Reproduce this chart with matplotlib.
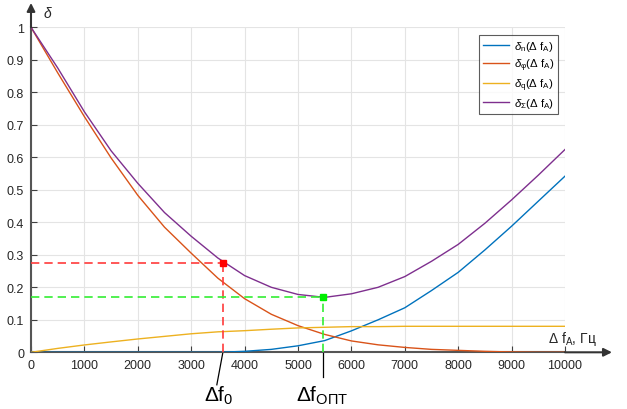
import matplotlib
matplotlib.use("Agg")
import matplotlib.pyplot as plt
import numpy as np

plt.rcParams['font.family'] = ['Liberation Sans', 'DejaVu Sans']
plt.rcParams['mathtext.fontset'] = 'custom'
plt.rcParams['mathtext.rm'] = 'Liberation Sans'
plt.rcParams['mathtext.it'] = 'Liberation Sans:italic'
plt.rcParams['mathtext.default'] = 'regular'

# ---- data ----
freq = [0, 500, 1000, 1500, 2000, 2500, 3000, 3500, 4000, 4500, 5000,
        5500, 6000, 6500, 7000, 7500, 8000, 8500, 9000, 9500, 10000]
delta_n = [0, 0, 0, 0, 0, 0, 0, 0, 0.003, 0.009, 0.02,
           0.036, 0.066, 0.1, 0.137, 0.19, 0.246, 0.315, 0.388, 0.465, 0.542]
delta_phi = [1.0, 0.86, 0.725, 0.598, 0.483, 0.385, 0.305, 0.228, 0.165, 0.117, 0.082,
             0.055, 0.035, 0.023, 0.015, 0.009, 0.006, 0.003, 0.001, 0.0, 0.0]
delta_q = [0, 0.012, 0.0226, 0.032, 0.041, 0.049, 0.057, 0.063, 0.0665, 0.071, 0.075,
           0.077, 0.079, 0.079, 0.08, 0.08, 0.08, 0.08, 0.08, 0.08, 0.08]
delta_sum = [1.0, 0.875, 0.74, 0.62, 0.52, 0.43, 0.357, 0.29, 0.236, 0.2, 0.178,
             0.169, 0.18, 0.2, 0.233, 0.28, 0.332, 0.397, 0.469, 0.545, 0.624]

f0 = 3590
f0_val = 0.274
fopt = 5470
fopt_val = 0.169

labels = [r'$\mathit{\delta}_n(\Delta\ f_A)$', r'$\mathit{\delta}_\varphi(\Delta\ f_A)$',
          r'$\mathit{\delta}_q(\Delta\ f_A)$', r'$\mathit{\delta}_\Sigma(\Delta\ f_A)$']
colors = ['#0072BD', '#D95319', '#EDB120', '#7E2F8E']
xticks = list(range(0, 10001, 1000))
yticks = [0, 0.1, 0.2, 0.3, 0.4, 0.5, 0.6, 0.7, 0.8, 0.9, 1]

W, H = 627, 410
fig = plt.figure(figsize=(W / 100, H / 100), dpi=100)
x0, x1 = 31, 565
y0, y1 = 353.3, 28.3
ax = fig.add_axes([x0 / W, 1 - y0 / H, (x1 - x0) / W, (y0 - y1) / H])

for ser, c, lab in zip([delta_n, delta_phi, delta_q, delta_sum], colors, labels):
    ax.plot(freq, ser, color=c, lw=1.0, label=lab, zorder=3)

ax.set_xlim(0, 10000)
ax.set_ylim(0, 1)
ax.set_xticks(xticks)
ax.set_yticks(yticks)
ax.set_xticklabels([str(t) for t in xticks])
ax.set_yticklabels(['0', '0.1', '0.2', '0.3', '0.4', '0.5', '0.6', '0.7', '0.8', '0.9', '1'])
ax.tick_params(direction='in', length=4, width=0.8, color='#404040',
               labelcolor='#262626', labelsize=9, pad=5)
ax.grid(True, color='#e4e4e4', lw=0.8, zorder=0)
ax.set_axisbelow(True)
for s in ['top', 'right']:
    ax.spines[s].set_visible(False)
for s in ['left', 'bottom']:
    ax.spines[s].set_color('#555555')
    ax.spines[s].set_linewidth(1.5)

# dashed guide lines and points
ax.plot([0, f0], [f0_val, f0_val], color='#ff3b3b', lw=1.2, dashes=(5, 3), zorder=4)
ax.plot([f0, f0], [0, f0_val], color='#ff3b3b', lw=1.2, dashes=(5, 3), zorder=4)
ax.plot([f0], [f0_val], 's', color='#ff0000', ms=4, zorder=5)
ax.plot([0, fopt], [fopt_val, fopt_val], color='#33ee33', lw=1.2, dashes=(5, 3), zorder=4)
ax.plot([fopt, fopt], [0, fopt_val], color='#33ee33', lw=1.2, dashes=(5, 3), zorder=4)
ax.plot([fopt], [fopt_val], 's', color='#00ee00', ms=4, zorder=5)

# leader lines and labels below axis
ax.plot([f0, f0 - 110], [-0.003, -0.1], color='k', lw=0.9, clip_on=False)
ax.plot([fopt, fopt], [-0.003, -0.075], color='k', lw=0.9, clip_on=False)
ax.text(3520, -0.13, r'$\Delta f_0$', fontsize=15, ha='center', va='center', color='k')
ax.text(5460, -0.13, r'$\Delta f_{ОПТ}$', fontsize=15, ha='center', va='center', color='k')

# axis arrows
ax.annotate('', xy=(10880, 0), xytext=(10000, 0), xycoords='data',
            arrowprops=dict(arrowstyle='-|>', color='#333333', lw=1.5,
                            mutation_scale=12, shrinkA=0, shrinkB=0),
            annotation_clip=False)
ax.annotate('', xy=(0, 1.075), xytext=(0, 1.0), xycoords='data',
            arrowprops=dict(arrowstyle='-|>', color='#333333', lw=1.5,
                            mutation_scale=12, shrinkA=0, shrinkB=0),
            annotation_clip=False)
ax.text(9680, 0.045, r'$\Delta\ f_A$, Гц', fontsize=10, ha='left', va='center',
        color='#262626', clip_on=False)
ax.text(230, 1.045, r'$\mathit{\delta}$', fontsize=10, ha='left', va='center',
        color='#262626', clip_on=False)

leg = ax.legend(loc='upper right', bbox_to_anchor=(0.987, 0.976), borderaxespad=0,
                fontsize=8.2, handlelength=2.3, handletextpad=0.4, labelspacing=0.3,
                frameon=True, fancybox=False, borderpad=0.35)
leg.get_frame().set_edgecolor('#333333')
leg.get_frame().set_linewidth(0.8)

fig.savefig('out.png', dpi=100)
